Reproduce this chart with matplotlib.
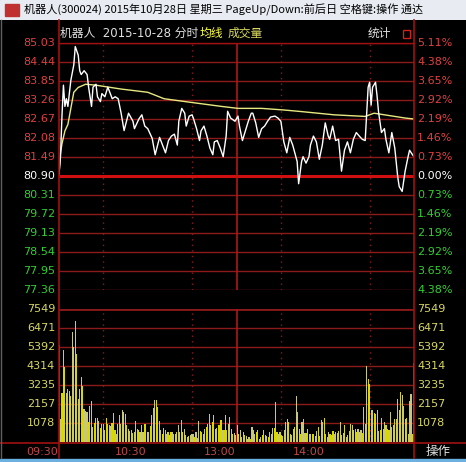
import numpy as np
import matplotlib
matplotlib.use("Agg")
import matplotlib.pyplot as plt
from matplotlib.lines import Line2D

plt.rcParams['font.family'] = ['DejaVu Sans', 'Noto Sans CJK SC']

title = "机器人(300024) 2015年10月28日 星期三 PageUp/Down:前后日 空格键:操作 通达"
prev_close = 80.90
price_ticks = [85.03, 84.44, 83.85, 83.26, 82.67, 82.08, 81.49, 80.90, 80.31, 79.72, 79.13, 78.54, 77.95, 77.36]
pct_labels = ["5.11%", "4.38%", "3.65%", "2.92%", "2.19%", "1.46%", "0.73%", "0.00%",
              "0.73%", "1.46%", "2.19%", "2.92%", "3.65%", "4.38%"]
vol_ticks = [1078, 2157, 3235, 4314, 5392, 6471, 7549]
time_labels = ["09:30", "10:30", "13:00", "14:00"]
time_label_pos = [0, 60, 120, 180]
dotted_pos = [30, 90, 150, 210]

price_min = [0, 1, 2, 3, 4, 5, 6, 8, 10, 11, 13, 14, 15, 17, 19, 20, 22, 23, 25, 26, 28, 29, 31, 33, 36, 38, 40,
             42, 44, 46, 47, 50, 51, 54, 56, 58, 60, 63, 65, 68, 70, 72, 74, 76, 78, 80, 81, 83, 85, 86, 88, 90,
             91, 93, 95, 96, 98, 100, 102, 104, 105, 107, 109, 111, 113, 114, 116, 119,
             121, 122, 124, 126, 128, 130, 131, 133, 135, 137, 139, 141, 143, 146, 148, 150, 152, 154, 156, 158,
             161, 162, 164, 165, 167, 169, 170, 172, 174, 176, 178, 180, 182, 183, 185, 187, 189, 191, 193, 195,
             197, 199, 201, 203, 205, 207, 208, 209, 210, 211, 212, 214, 215, 216, 218, 220, 221, 223, 225, 227,
             229, 230, 232, 234, 236, 237, 239, 240]
price_val = [80.96, 81.50, 82.76, 83.72, 83.06, 83.30, 83.06, 83.87, 84.35, 84.92, 84.65, 84.17, 84.05, 84.17,
             84.05, 83.66, 83.06, 83.66, 83.75, 83.36, 83.21, 83.46, 83.36, 83.66, 83.30, 83.36, 83.30,
             82.85, 82.31, 82.67, 82.85, 82.60, 82.37, 82.67, 82.80, 82.45, 82.37, 82.07, 81.56, 82.10, 81.86,
             81.62, 82.00, 82.14, 82.20, 81.86, 82.60, 83.00, 82.85, 82.45, 82.76, 82.80, 82.67, 82.37, 82.00,
             82.30, 82.45, 82.14, 81.77, 81.56, 81.96, 82.00, 81.77, 81.50, 82.14, 82.91, 82.70, 82.60,
             82.76, 82.45, 82.00, 82.30, 82.60, 82.85, 82.85, 82.55, 82.10, 82.37, 82.45, 82.60, 82.73, 82.76,
             82.70, 82.60, 81.96, 81.62, 82.10, 81.86, 81.35, 80.66, 81.35, 81.50, 81.30, 81.50, 81.86, 82.14,
             81.96, 81.42, 81.86, 82.55, 82.14, 82.04, 82.45, 82.00, 82.04, 81.05, 81.70, 81.96, 81.62, 82.04,
             82.25, 82.14, 82.04, 82.00, 82.85, 83.66, 83.81, 83.10, 83.66, 83.81, 83.40, 82.90, 82.25, 82.37,
             82.04, 81.62, 82.25, 81.77, 80.87, 80.57, 80.42, 81.05, 81.50, 81.70, 81.56, 81.50]

avg_min = [0, 1, 2, 4, 6, 8, 10, 13, 18, 25, 42, 60, 71, 87, 110, 121, 137, 152, 164, 186, 207, 213, 227, 234, 240]
avg_val = [80.95, 81.60, 81.90, 82.30, 82.50, 83.00, 83.50, 83.65, 83.75, 83.72, 83.60, 83.50, 83.30, 83.20,
           83.06, 83.00, 83.00, 82.95, 82.90, 82.80, 82.75, 82.85, 82.75, 82.70, 82.67]

volume = [5480, 1320, 2780, 5200, 4250, 2780, 2990, 2870, 2590, 6270, 5390, 6840, 5010, 2420, 2990, 3690, 3160,
          1850, 1740, 1680, 1130, 2020, 2320, 850, 1080, 1380, 1380, 1170, 790, 1040, 1000, 660, 1380, 1040, 980,
          890, 1100, 1660, 660, 470, 1040, 1550, 1040, 1800, 1700, 1610, 980, 720, 600, 660, 530, 570, 1170, 720,
          660, 570, 980, 570, 1040, 1040, 570, 570, 890, 1510, 1950, 2400, 2400, 1980, 1170, 660, 470, 810, 660,
          470, 570, 380, 570, 570, 470,
          473, 567, 945, 567, 1229, 567, 756, 378, 284, 321, 378, 473, 435, 284, 567, 246, 1172, 605, 567, 473,
          756, 851, 1040, 1569, 945, 1134, 1512, 756, 813, 945, 945, 1229, 662, 662, 1512, 662, 1040, 1418, 756,
          473, 510, 378, 945, 473, 662, 284, 567, 378, 340, 189, 284, 151, 851, 662, 473, 567, 662, 189, 284,
          378, 662, 378, 321, 284, 567, 473, 794, 794, 2268, 567, 473, 567, 378, 321, 662, 1134, 1323, 1134,
          435, 378, 756,
          851, 2589, 1701, 756, 473, 1134, 1323, 510, 510, 756, 473, 473, 435, 473, 340, 624, 851, 321, 1229,
          1134, 1380, 473, 284, 567, 435, 378, 605, 473, 567, 510, 605, 1134, 378, 510, 945, 284, 378, 624, 1040,
          945, 662, 756, 567, 756, 567, 662, 510, 1985, 1040, 4290, 3591, 3270, 1796, 1833, 1644, 1607, 1833, 624,
          662, 1380, 756, 1134, 945, 756, 699, 1701, 851, 945, 1323, 1323, 2457, 1833, 2835, 2646, 2022, 1323,
          1380, 473, 2325, 2703, 473, 4498]

W, H = 466, 462
fig = plt.figure(figsize=(W / 100, H / 100), dpi=100)
fig.patch.set_facecolor('black')

def fx(px):
    return px / W

def fy(py):
    return 1 - py / H

# title bar
bar = fig.add_axes([0, fy(20), 1, 20 / H])
bar.set_axis_off()
bar.add_patch(plt.Rectangle((0, 0), 1, 1, transform=bar.transAxes, color='#e8ecf2'))
bar.add_patch(plt.Rectangle((0.01, 0.2), 0.03, 0.6, transform=bar.transAxes, color='#c03030'))
fig.text(fx(24), fy(10), title, color='black', fontsize=8.0, va='center', ha='left',
         family=['Noto Sans CJK SC', 'DejaVu Sans'])
# bottom blue line
fig.add_artist(plt.Rectangle((0, 0), 1, 3 / H, transform=fig.transFigure, color='#6ab0e0'))

x0, x1 = 59, 414
red = '#a01010'
grid = '#8c1a1a'

# price axes
pt, pb = 43, 290
axp = fig.add_axes([fx(x0), fy(pb), (x1 - x0) / W, (pb - pt) / H])
axp.set_facecolor('black')
axp.set_xlim(0, 240)
axp.set_ylim(price_ticks[-1], price_ticks[0])
for v in price_ticks:
    if abs(v - prev_close) < 1e-6:
        axp.axhline(v, color='#d01010', lw=2.2, zorder=1)
    else:
        axp.axhline(v, color=grid, lw=1.0, zorder=1)
axp.plot(avg_min, avg_val, color='#e8e880', lw=1.0, zorder=3)
axp.plot(price_min, price_val, color='white', lw=1.0, zorder=4)

# volume axes
vt, vb = 309, 442
axv = fig.add_axes([fx(x0), fy(vb), (x1 - x0) / W, (vb - vt) / H])
axv.set_facecolor('black')
axv.set_xlim(0, 240)
axv.set_ylim(0, vol_ticks[-1])
for v in vol_ticks:
    axv.axhline(v, color=grid, lw=2.0 if v == vol_ticks[-1] else 1.0, zorder=1)
n = len(volume)
t = np.arange(n) * 240 / (n - 1)
cols = ['#d8d800' if i % 2 == 0 else '#c8c878' for i in range(n)]
cols[0] = '#ff8020'
axv.bar(t, volume, width=0.75, color=cols, zorder=3)

for ax in (axp, axv):
    for s in ax.spines.values():
        s.set_visible(False)
    ax.set_xticks([])
    ax.set_yticks([])
    ax.axvline(120, color='#b01818', lw=1.2, zorder=2)
    for d in dotted_pos:
        ax.axvline(d, color='#8c1a1a', lw=1.0, ls=(0, (1, 3)), zorder=2)

# frame lines
fig.add_artist(Line2D([fx(x0), fx(x0)], [fy(20), fy(458)], color=red, lw=1.2))
fig.add_artist(Line2D([fx(x1), fx(x1)], [fy(20), fy(458)], color=red, lw=1.2))
fig.add_artist(Line2D([fx(0), fx(W)], [fy(443), fy(443)], color=red, lw=1.2))
fig.add_artist(Line2D([fx(x0), fx(x1)], [fy(pt), fy(pt)], color=red, lw=1.0))
fig.add_artist(Line2D([fx(1), fx(1)], [fy(20), fy(458)], color='#606060', lw=1.0))

# price labels
fs = 8
for v, p in zip(price_ticks, pct_labels):
    y = pt + (price_ticks[0] - v) / (price_ticks[0] - price_ticks[-1]) * (pb - pt)
    if v > prev_close + 1e-6:
        c = '#e04040'
    elif v < prev_close - 1e-6:
        c = '#30d030'
    else:
        c = 'white'
    fig.text(fx(x0 - 4), fy(y), f"{v:.2f}", color=c, fontsize=fs, ha='right', va='center')
    fig.text(fx(x1 + 3), fy(y), p, color=c, fontsize=fs, ha='left', va='center')
for v in vol_ticks:
    y = vb - v / vol_ticks[-1] * (vb - vt)
    fig.text(fx(x0 - 4), fy(y), str(v), color='#d8d860', fontsize=fs, ha='right', va='center')
    fig.text(fx(x1 + 3), fy(y), str(v), color='#d8d860', fontsize=fs, ha='left', va='center')

for lab, m in zip(time_labels, time_label_pos):
    xp = x0 + m / 240 * (x1 - x0)
    fig.text(fx(xp - 1), fy(452), lab, color='#c04848', fontsize=fs, ha='right', va='center')
fig.text(fx(438), fy(451), "操作", color='#e0e0e0', fontsize=9, ha='center', va='center')

# header row
fig.text(fx(60), fy(33), "机器人  2015-10-28 分时", color='#e0e0e0', fontsize=8.5, ha='left', va='center')
fig.text(fx(200), fy(33), "均线", color='#ffff40', fontsize=8.5, ha='left', va='center')
fig.text(fx(228), fy(33), "成交量", color='#d8d860', fontsize=8.5, ha='left', va='center')
fig.text(fx(368), fy(33), "统计", color='#e0e0e0', fontsize=8.5, ha='left', va='center')
fig.add_artist(plt.Rectangle((fx(403), fy(38)), 7 / W, 8 / H, transform=fig.transFigure,
                             fill=False, edgecolor='#d02020', lw=1.0))

fig.savefig("out.png", dpi=100, facecolor='black')
